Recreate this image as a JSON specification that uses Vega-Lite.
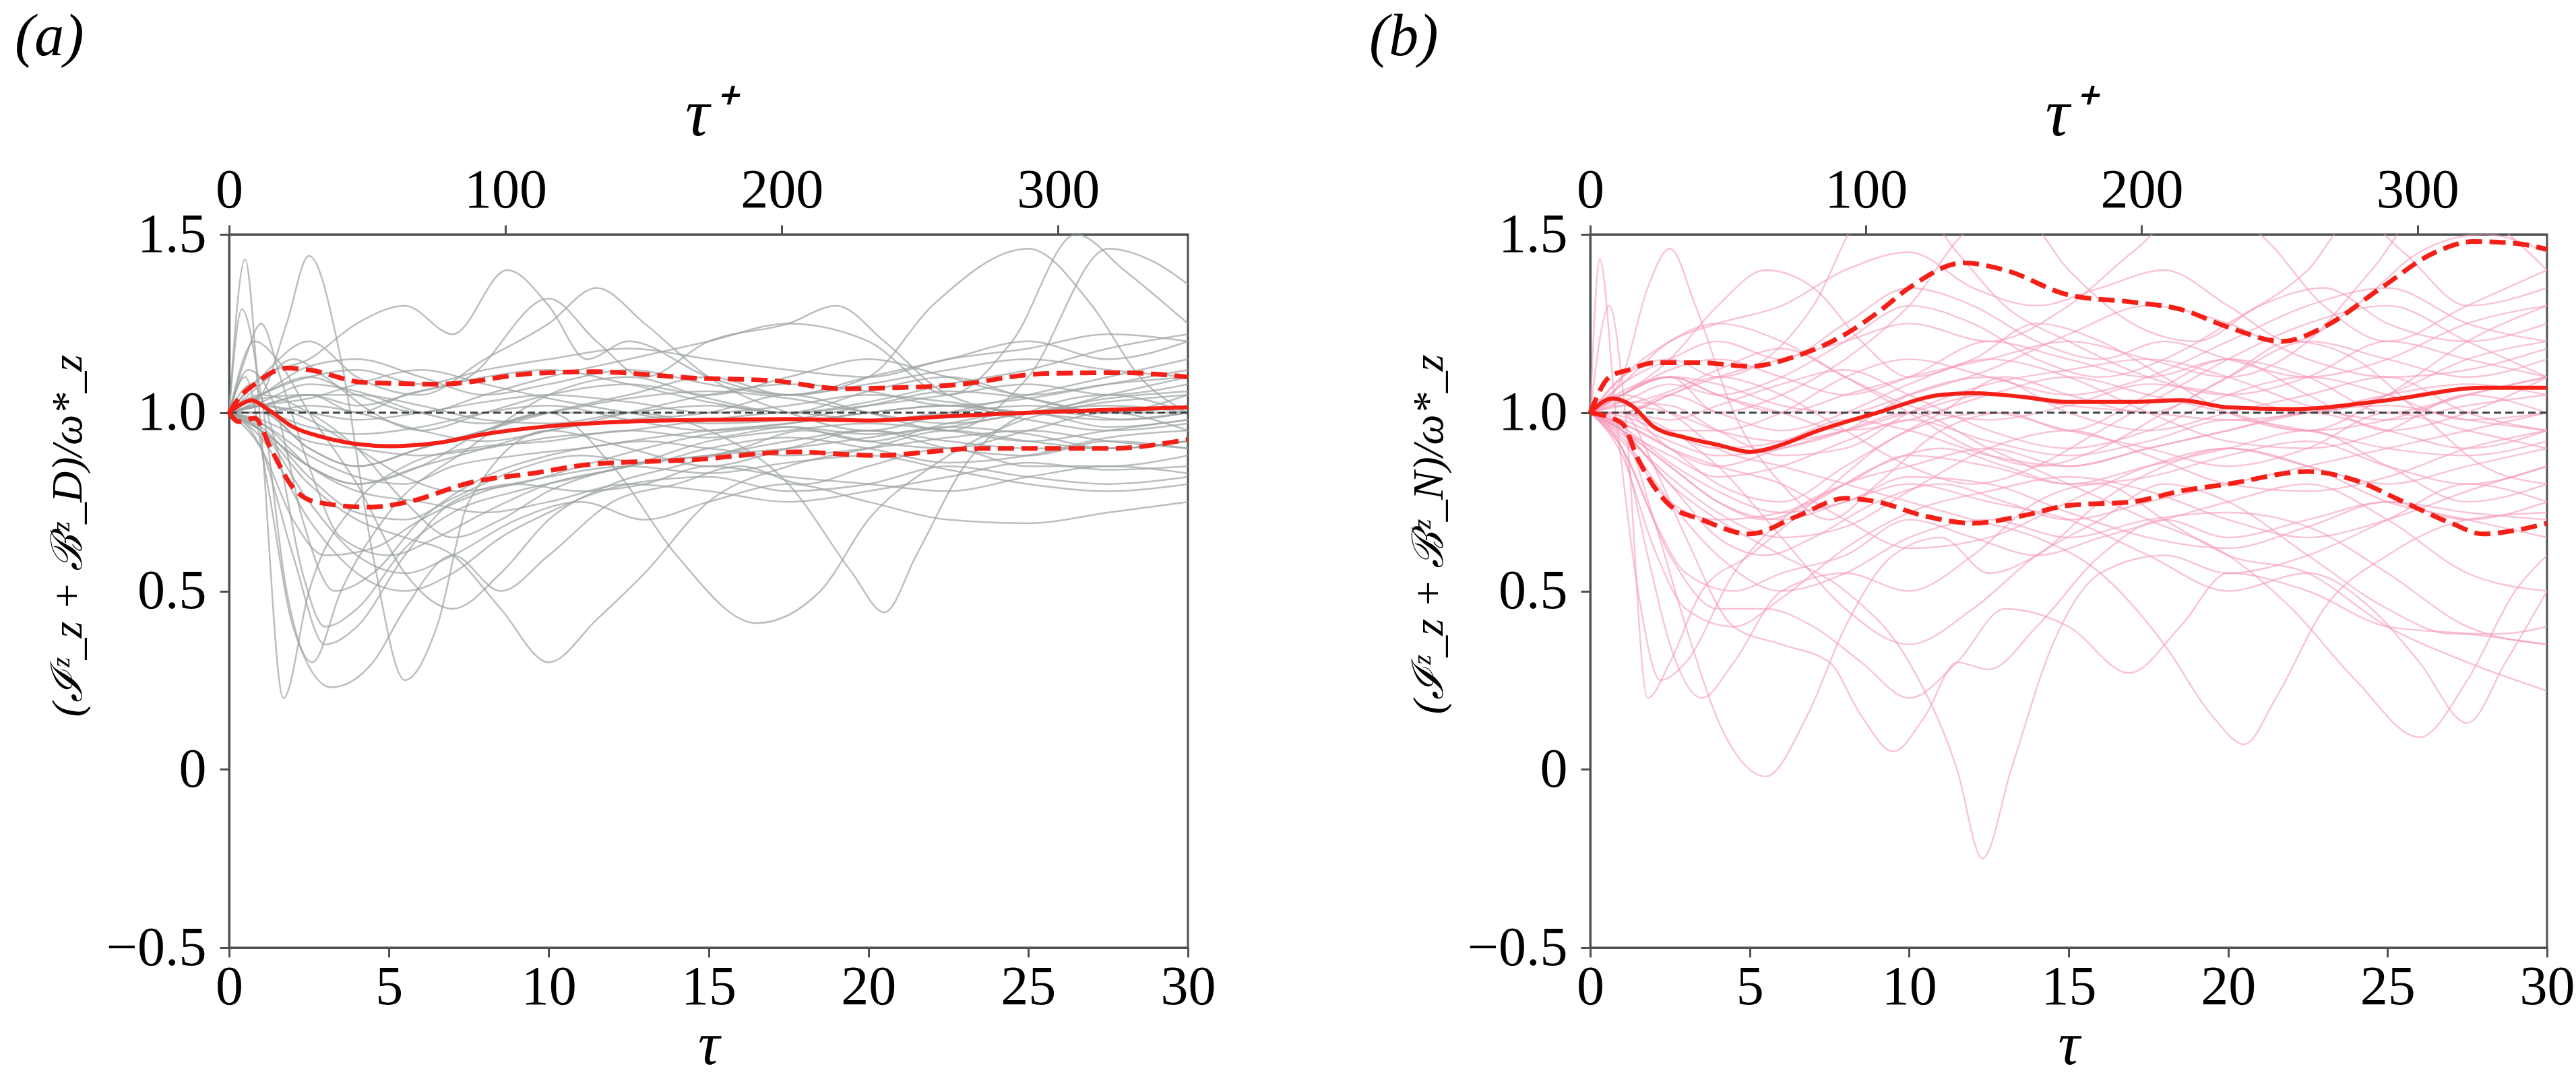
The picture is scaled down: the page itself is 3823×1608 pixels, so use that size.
{
  "$schema": "https://vega.github.io/schema/vega-lite/v6.json",
  "padding": {"left": 20, "top": 10, "right": 5, "bottom": 0},
  "config": {
    "font": "Liberation Serif",
    "view": {"stroke": "#4b5050", "strokeWidth": 3},
    "axis": {
      "labelFont": "Liberation Serif", "labelFontSize": 82, "labelColor": "#000000",
      "titleFont": "Liberation Serif", "titleFontWeight": "normal", "titleColor": "#000000",
      "domainColor": "#4b5050", "domainWidth": 3, "tickColor": "#4b5050", "tickWidth": 3, "tickSize": 14,
      "grid": false, "labelFlush": false, "labelOverlap": false
    },
    "title": {"font": "Liberation Serif", "fontSize": 88, "fontWeight": "normal", "fontStyle": "italic", "color": "#000000"}
  },
  "datasets": {
    "a": [
      {"s":1,"t":0,"v":1.0},{"s":1,"t":0.5,"v":1.43},{"s":1,"t":1.0,"v":0.95},{"s":1,"t":1.7,"v":0.2},{"s":1,"t":2.5,"v":0.5},{"s":1,"t":4,"v":0.75},{"s":1,"t":5.5,"v":0.85},{"s":1,"t":7.5,"v":0.9},{"s":1,"t":10,"v":0.92},{"s":1,"t":12.5,"v":0.95},{"s":1,"t":15,"v":0.93},{"s":1,"t":17.5,"v":0.96},{"s":1,"t":20,"v":0.92},{"s":1,"t":22.5,"v":0.97},{"s":1,"t":25,"v":1.0},{"s":1,"t":27.5,"v":0.96},{"s":1,"t":30,"v":0.98},
      {"s":2,"t":0,"v":1.0},{"s":2,"t":0.4,"v":1.29},{"s":2,"t":1.0,"v":1.05},{"s":2,"t":1.8,"v":0.5},{"s":2,"t":2.6,"v":0.3},{"s":2,"t":3.5,"v":0.5},{"s":2,"t":5,"v":0.72},{"s":2,"t":7.5,"v":0.9},{"s":2,"t":10,"v":1.05},{"s":2,"t":12.5,"v":1.1},{"s":2,"t":15,"v":1.04},{"s":2,"t":17.5,"v":1.0},{"s":2,"t":20,"v":1.06},{"s":2,"t":22.5,"v":1.1},{"s":2,"t":25,"v":1.04},{"s":2,"t":27.5,"v":1.0},{"s":2,"t":30,"v":1.05},
      {"s":3,"t":0,"v":1.0},{"s":3,"t":1.0,"v":1.05},{"s":3,"t":1.8,"v":1.25},{"s":3,"t":2.5,"v":1.44},{"s":3,"t":3.5,"v":1.15},{"s":3,"t":4.5,"v":0.6},{"s":3,"t":5.5,"v":0.25},{"s":3,"t":6.5,"v":0.4},{"s":3,"t":7.5,"v":0.75},{"s":3,"t":10,"v":0.95},{"s":3,"t":12.5,"v":0.9},{"s":3,"t":15,"v":0.85},{"s":3,"t":17.5,"v":0.9},{"s":3,"t":20,"v":0.95},{"s":3,"t":22.5,"v":0.9},{"s":3,"t":25,"v":0.88},{"s":3,"t":27.5,"v":0.92},{"s":3,"t":30,"v":0.9},
      {"s":4,"t":0,"v":1.0},{"s":4,"t":1,"v":1.1},{"s":4,"t":2.5,"v":1.15},{"s":4,"t":4,"v":1.25},{"s":4,"t":5.5,"v":1.3},{"s":4,"t":7,"v":1.22},{"s":4,"t":8.7,"v":1.4},{"s":4,"t":10,"v":1.3},{"s":4,"t":11.2,"v":1.15},{"s":4,"t":12.5,"v":1.2},{"s":4,"t":15,"v":1.1},{"s":4,"t":17.5,"v":1.05},{"s":4,"t":20,"v":1.1},{"s":4,"t":22.5,"v":1.15},{"s":4,"t":25,"v":1.2},{"s":4,"t":27.5,"v":1.15},{"s":4,"t":30,"v":1.2},
      {"s":5,"t":0,"v":1.0},{"s":5,"t":1,"v":1.02},{"s":5,"t":2.5,"v":1.05},{"s":5,"t":4,"v":1.0},{"s":5,"t":5.5,"v":1.05},{"s":5,"t":7.5,"v":1.1},{"s":5,"t":10,"v":1.32},{"s":5,"t":11.5,"v":1.2},{"s":5,"t":13,"v":1.1},{"s":5,"t":15,"v":1.2},{"s":5,"t":17.5,"v":1.25},{"s":5,"t":19,"v":1.3},{"s":5,"t":20.5,"v":1.2},{"s":5,"t":22.5,"v":1.05},{"s":5,"t":25,"v":1.0},{"s":5,"t":27.5,"v":1.05},{"s":5,"t":30,"v":1.1},
      {"s":6,"t":0,"v":1.0},{"s":6,"t":1,"v":1.1},{"s":6,"t":2.5,"v":1.2},{"s":6,"t":4,"v":1.1},{"s":6,"t":6,"v":1.05},{"s":6,"t":8,"v":1.15},{"s":6,"t":10,"v":1.25},{"s":6,"t":11.5,"v":1.35},{"s":6,"t":13,"v":1.25},{"s":6,"t":15,"v":1.1},{"s":6,"t":17.5,"v":1.0},{"s":6,"t":20,"v":0.95},{"s":6,"t":22.5,"v":1.0},{"s":6,"t":25,"v":1.05},{"s":6,"t":27.5,"v":1.1},{"s":6,"t":30,"v":1.15},
      {"s":7,"t":0,"v":1.0},{"s":7,"t":1,"v":0.95},{"s":7,"t":2.5,"v":0.8},{"s":7,"t":4,"v":0.7},{"s":7,"t":5.5,"v":0.65},{"s":7,"t":7,"v":0.6},{"s":7,"t":8.5,"v":0.45},{"s":7,"t":10,"v":0.3},{"s":7,"t":11.5,"v":0.42},{"s":7,"t":13,"v":0.55},{"s":7,"t":15,"v":0.75},{"s":7,"t":17.5,"v":0.85},{"s":7,"t":20,"v":0.9},{"s":7,"t":22.5,"v":0.95},{"s":7,"t":25,"v":0.92},{"s":7,"t":27.5,"v":0.9},{"s":7,"t":30,"v":0.92},
      {"s":8,"t":0,"v":1.0},{"s":8,"t":1,"v":0.95},{"s":8,"t":2.5,"v":0.85},{"s":8,"t":4,"v":0.8},{"s":8,"t":6,"v":0.85},{"s":8,"t":8,"v":0.95},{"s":8,"t":10,"v":1.0},{"s":8,"t":12,"v":0.85},{"s":8,"t":14,"v":0.6},{"s":8,"t":16.5,"v":0.41},{"s":8,"t":18.5,"v":0.5},{"s":8,"t":20,"v":0.7},{"s":8,"t":22,"v":0.85},{"s":8,"t":24,"v":0.95},{"s":8,"t":26,"v":1.0},{"s":8,"t":28,"v":0.98},{"s":8,"t":30,"v":1.0},
      {"s":9,"t":0,"v":1.0},{"s":9,"t":1,"v":1.0},{"s":9,"t":2.5,"v":0.9},{"s":9,"t":4,"v":0.85},{"s":9,"t":6,"v":0.9},{"s":9,"t":8,"v":0.95},{"s":9,"t":10,"v":1.0},{"s":9,"t":12.5,"v":1.0},{"s":9,"t":15,"v":0.95},{"s":9,"t":17.5,"v":0.8},{"s":9,"t":19.5,"v":0.55},{"s":9,"t":20.5,"v":0.44},{"s":9,"t":21.5,"v":0.6},{"s":9,"t":23,"v":0.85},{"s":9,"t":25,"v":1.0},{"s":9,"t":27.5,"v":1.05},{"s":9,"t":30,"v":1.0},
      {"s":10,"t":0,"v":1.0},{"s":10,"t":1,"v":1.0},{"s":10,"t":2.5,"v":0.9},{"s":10,"t":4,"v":0.85},{"s":10,"t":6,"v":0.9},{"s":10,"t":8,"v":0.95},{"s":10,"t":10,"v":1.0},{"s":10,"t":12.5,"v":1.05},{"s":10,"t":15,"v":1.1},{"s":10,"t":17.5,"v":1.05},{"s":10,"t":20,"v":1.1},{"s":10,"t":22,"v":1.3},{"s":10,"t":25,"v":1.46},{"s":10,"t":27,"v":1.3},{"s":10,"t":28.5,"v":1.1},{"s":10,"t":30,"v":1.0},
      {"s":11,"t":0,"v":1.0},{"s":11,"t":1,"v":1.05},{"s":11,"t":2.5,"v":1.1},{"s":11,"t":4,"v":1.05},{"s":11,"t":6,"v":1.0},{"s":11,"t":8,"v":1.05},{"s":11,"t":10,"v":1.1},{"s":11,"t":12.5,"v":1.15},{"s":11,"t":15,"v":1.2},{"s":11,"t":17.5,"v":1.25},{"s":11,"t":20,"v":1.2},{"s":11,"t":22.5,"v":1.05},{"s":11,"t":24.5,"v":1.2},{"s":11,"t":26.5,"v":1.5},{"s":11,"t":28,"v":1.4},{"s":11,"t":30,"v":1.25},
      {"s":12,"t":0,"v":1.0},{"s":12,"t":1,"v":0.95},{"s":12,"t":2.5,"v":0.85},{"s":12,"t":4,"v":0.8},{"s":12,"t":6,"v":0.85},{"s":12,"t":8,"v":0.9},{"s":12,"t":10,"v":0.95},{"s":12,"t":12.5,"v":0.98},{"s":12,"t":15,"v":1.0},{"s":12,"t":17.5,"v":1.05},{"s":12,"t":20,"v":1.0},{"s":12,"t":22.5,"v":0.95},{"s":12,"t":25,"v":1.1},{"s":12,"t":27.5,"v":1.46},{"s":12,"t":29,"v":1.42},{"s":12,"t":30,"v":1.36},
      {"s":13,"t":0,"v":1.0},{"s":13,"t":1,"v":0.95},{"s":13,"t":2.5,"v":0.75},{"s":13,"t":4,"v":0.6},{"s":13,"t":5.5,"v":0.55},{"s":13,"t":7,"v":0.6},{"s":13,"t":9,"v":0.7},{"s":13,"t":11,"v":0.75},{"s":13,"t":13,"v":0.7},{"s":13,"t":15,"v":0.75},{"s":13,"t":17.5,"v":0.8},{"s":13,"t":20,"v":0.75},{"s":13,"t":22.5,"v":0.7},{"s":13,"t":25,"v":0.69},{"s":13,"t":27.5,"v":0.72},{"s":13,"t":30,"v":0.75},
      {"s":14,"t":0,"v":1.0},{"s":14,"t":0.5,"v":1.1},{"s":14,"t":1.2,"v":0.8},{"s":14,"t":2,"v":0.4},{"s":14,"t":3.2,"v":0.23},{"s":14,"t":4.5,"v":0.3},{"s":14,"t":5.5,"v":0.45},{"s":14,"t":7,"v":0.6},{"s":14,"t":8.5,"v":0.5},{"s":14,"t":10,"v":0.6},{"s":14,"t":12,"v":0.75},{"s":14,"t":14,"v":0.8},{"s":14,"t":16,"v":0.85},{"s":14,"t":18,"v":0.8},{"s":14,"t":20,"v":0.85},{"s":14,"t":22.5,"v":0.9},{"s":14,"t":25,"v":0.85},{"s":14,"t":27.5,"v":0.85},{"s":14,"t":30,"v":0.88},
      {"s":15,"t":0,"v":1.0},{"s":15,"t":0.8,"v":1.2},{"s":15,"t":1.5,"v":1.15},{"s":15,"t":2.5,"v":1.0},{"s":15,"t":4,"v":0.8},{"s":15,"t":5.5,"v":0.55},{"s":15,"t":7,"v":0.45},{"s":15,"t":8.5,"v":0.55},{"s":15,"t":10,"v":0.7},{"s":15,"t":12,"v":0.8},{"s":15,"t":14,"v":0.85},{"s":15,"t":16,"v":0.9},{"s":15,"t":18,"v":0.95},{"s":15,"t":20,"v":0.92},{"s":15,"t":22.5,"v":0.9},{"s":15,"t":25,"v":0.95},{"s":15,"t":27.5,"v":1.0},{"s":15,"t":30,"v":0.95},
      {"s":16,"t":0,"v":1.0},{"s":16,"t":1,"v":1.05},{"s":16,"t":2.5,"v":1.1},{"s":16,"t":4,"v":1.12},{"s":16,"t":6,"v":1.08},{"s":16,"t":8,"v":1.12},{"s":16,"t":10,"v":1.15},{"s":16,"t":12.5,"v":1.18},{"s":16,"t":15,"v":1.15},{"s":16,"t":17.5,"v":1.12},{"s":16,"t":20,"v":1.1},{"s":16,"t":22.5,"v":1.15},{"s":16,"t":25,"v":1.18},{"s":16,"t":27.5,"v":1.22},{"s":16,"t":30,"v":1.2},
      {"s":17,"t":0,"v":1.0},{"s":17,"t":1,"v":0.98},{"s":17,"t":2.5,"v":0.92},{"s":17,"t":4,"v":0.9},{"s":17,"t":6,"v":0.88},{"s":17,"t":8,"v":0.9},{"s":17,"t":10,"v":0.93},{"s":17,"t":12.5,"v":0.95},{"s":17,"t":15,"v":0.98},{"s":17,"t":17.5,"v":1.0},{"s":17,"t":20,"v":0.98},{"s":17,"t":22.5,"v":1.0},{"s":17,"t":25,"v":1.02},{"s":17,"t":27.5,"v":1.0},{"s":17,"t":30,"v":1.02},
      {"s":18,"t":0,"v":1.0},{"s":18,"t":1,"v":1.02},{"s":18,"t":2.5,"v":1.0},{"s":18,"t":4,"v":0.98},{"s":18,"t":6,"v":1.0},{"s":18,"t":8,"v":1.03},{"s":18,"t":10,"v":1.05},{"s":18,"t":12.5,"v":1.03},{"s":18,"t":15,"v":1.0},{"s":18,"t":17.5,"v":1.02},{"s":18,"t":20,"v":1.05},{"s":18,"t":22.5,"v":1.03},{"s":18,"t":25,"v":1.0},{"s":18,"t":27.5,"v":1.03},{"s":18,"t":30,"v":1.05},
      {"s":19,"t":0,"v":1.0},{"s":19,"t":1,"v":0.9},{"s":19,"t":2,"v":0.6},{"s":19,"t":3,"v":0.35},{"s":19,"t":4,"v":0.4},{"s":19,"t":5.5,"v":0.6},{"s":19,"t":7,"v":0.75},{"s":19,"t":9,"v":0.8},{"s":19,"t":11,"v":0.78},{"s":19,"t":13,"v":0.8},{"s":19,"t":15,"v":0.85},{"s":19,"t":17.5,"v":0.82},{"s":19,"t":20,"v":0.8},{"s":19,"t":22.5,"v":0.78},{"s":19,"t":25,"v":0.82},{"s":19,"t":27.5,"v":0.85},{"s":19,"t":30,"v":0.83},
      {"s":20,"t":0,"v":1.0},{"s":20,"t":1,"v":1.05},{"s":20,"t":2.5,"v":1.0},{"s":20,"t":4,"v":0.9},{"s":20,"t":5.5,"v":0.75},{"s":20,"t":7,"v":0.65},{"s":20,"t":8.5,"v":0.7},{"s":20,"t":10,"v":0.78},{"s":20,"t":12.5,"v":0.85},{"s":20,"t":15,"v":0.88},{"s":20,"t":17.5,"v":0.92},{"s":20,"t":20,"v":0.95},{"s":20,"t":22.5,"v":0.92},{"s":20,"t":25,"v":0.9},{"s":20,"t":27.5,"v":0.9},{"s":20,"t":30,"v":0.92},
      {"s":21,"t":0,"v":1.0},{"s":21,"t":1,"v":1.08},{"s":21,"t":2,"v":1.15},{"s":21,"t":3,"v":1.1},{"s":21,"t":4.5,"v":1.0},{"s":21,"t":6,"v":0.95},{"s":21,"t":8,"v":1.0},{"s":21,"t":10,"v":1.05},{"s":21,"t":12.5,"v":1.08},{"s":21,"t":15,"v":1.05},{"s":21,"t":17.5,"v":1.1},{"s":21,"t":20,"v":1.15},{"s":21,"t":22.5,"v":1.1},{"s":21,"t":25,"v":1.05},{"s":21,"t":27.5,"v":1.08},{"s":21,"t":30,"v":1.1},
      {"s":22,"t":0,"v":1.0},{"s":22,"t":1,"v":0.93},{"s":22,"t":2.5,"v":0.7},{"s":22,"t":4,"v":0.55},{"s":22,"t":5.5,"v":0.5},{"s":22,"t":7,"v":0.55},{"s":22,"t":8.5,"v":0.65},{"s":22,"t":10,"v":0.72},{"s":22,"t":12.5,"v":0.8},{"s":22,"t":15,"v":0.82},{"s":22,"t":17.5,"v":0.78},{"s":22,"t":20,"v":0.8},{"s":22,"t":22.5,"v":0.85},{"s":22,"t":25,"v":0.82},{"s":22,"t":27.5,"v":0.8},{"s":22,"t":30,"v":0.82},
      {"s":23,"t":0,"v":1.0},{"s":23,"t":1,"v":0.97},{"s":23,"t":2.5,"v":0.88},{"s":23,"t":4,"v":0.82},{"s":23,"t":5.5,"v":0.8},{"s":23,"t":7,"v":0.85},{"s":23,"t":9,"v":0.88},{"s":23,"t":11,"v":0.9},{"s":23,"t":13,"v":0.92},{"s":23,"t":15,"v":0.9},{"s":23,"t":17.5,"v":0.88},{"s":23,"t":20,"v":0.9},{"s":23,"t":22.5,"v":0.93},{"s":23,"t":25,"v":0.95},{"s":23,"t":27.5,"v":0.92},{"s":23,"t":30,"v":0.9},
      {"s":24,"t":0,"v":1.0},{"s":24,"t":0.6,"v":1.12},{"s":24,"t":1.5,"v":1.0},{"s":24,"t":2.3,"v":0.7},{"s":24,"t":3.3,"v":0.5},{"s":24,"t":4.5,"v":0.55},{"s":24,"t":6,"v":0.7},{"s":24,"t":8,"v":0.82},{"s":24,"t":10,"v":0.88},{"s":24,"t":12.5,"v":0.92},{"s":24,"t":15,"v":0.95},{"s":24,"t":17.5,"v":0.97},{"s":24,"t":20,"v":1.0},{"s":24,"t":22.5,"v":1.02},{"s":24,"t":25,"v":1.0},{"s":24,"t":27.5,"v":0.98},{"s":24,"t":30,"v":1.0},
      {"s":25,"t":0,"v":1.0},{"s":25,"t":1,"v":1.02},{"s":25,"t":2.5,"v":1.05},{"s":25,"t":4,"v":1.05},{"s":25,"t":6,"v":1.02},{"s":25,"t":8,"v":0.98},{"s":25,"t":10,"v":0.97},{"s":25,"t":12.5,"v":1.0},{"s":25,"t":15,"v":1.02},{"s":25,"t":17.5,"v":1.0},{"s":25,"t":20,"v":1.02},{"s":25,"t":22.5,"v":1.05},{"s":25,"t":25,"v":1.08},{"s":25,"t":27.5,"v":1.05},{"s":25,"t":30,"v":1.08},
      {"s":26,"t":0,"v":1.0},{"s":26,"t":1,"v":1.03},{"s":26,"t":2.5,"v":1.08},{"s":26,"t":4,"v":1.06},{"s":26,"t":6,"v":1.0},{"s":26,"t":8,"v":0.97},{"s":26,"t":10,"v":1.0},{"s":26,"t":12.5,"v":1.04},{"s":26,"t":15,"v":1.06},{"s":26,"t":17.5,"v":1.04},{"s":26,"t":20,"v":1.0},{"s":26,"t":22.5,"v":0.97},{"s":26,"t":25,"v":1.0},{"s":26,"t":27.5,"v":1.04},{"s":26,"t":30,"v":1.06},
      {"s":27,"t":0,"v":1.0},{"s":27,"t":1,"v":0.96},{"s":27,"t":2.5,"v":0.82},{"s":27,"t":4,"v":0.72},{"s":27,"t":5.5,"v":0.7},{"s":27,"t":7,"v":0.76},{"s":27,"t":9,"v":0.84},{"s":27,"t":11,"v":0.88},{"s":27,"t":13,"v":0.86},{"s":27,"t":15,"v":0.9},{"s":27,"t":17.5,"v":0.93},{"s":27,"t":20,"v":0.9},{"s":27,"t":22.5,"v":0.86},{"s":27,"t":25,"v":0.88},{"s":27,"t":27.5,"v":0.93},{"s":27,"t":30,"v":0.95},
      {"s":28,"t":0,"v":1.0},{"s":28,"t":1,"v":1.05},{"s":28,"t":2.5,"v":1.13},{"s":28,"t":4,"v":1.15},{"s":28,"t":6,"v":1.1},{"s":28,"t":8,"v":1.05},{"s":28,"t":10,"v":1.08},{"s":28,"t":12.5,"v":1.12},{"s":28,"t":15,"v":1.08},{"s":28,"t":17.5,"v":1.05},{"s":28,"t":20,"v":1.08},{"s":28,"t":22.5,"v":1.12},{"s":28,"t":25,"v":1.15},{"s":28,"t":27.5,"v":1.12},{"s":28,"t":30,"v":1.1},
      {"s":29,"t":0,"v":1.0},{"s":29,"t":1,"v":0.9},{"s":29,"t":2,"v":0.7},{"s":29,"t":3,"v":0.6},{"s":29,"t":4.5,"v":0.62},{"s":29,"t":6,"v":0.7},{"s":29,"t":8,"v":0.78},{"s":29,"t":10,"v":0.82},{"s":29,"t":12.5,"v":0.85},{"s":29,"t":15,"v":0.83},{"s":29,"t":17.5,"v":0.86},{"s":29,"t":20,"v":0.88},{"s":29,"t":22.5,"v":0.84},{"s":29,"t":25,"v":0.8},{"s":29,"t":27.5,"v":0.78},{"s":29,"t":30,"v":0.8},
      {"s":30,"t":0,"v":1.0},{"s":30,"t":1,"v":1.0},{"s":30,"t":2.5,"v":0.96},{"s":30,"t":4,"v":0.94},{"s":30,"t":6,"v":0.96},{"s":30,"t":8,"v":1.0},{"s":30,"t":10,"v":1.02},{"s":30,"t":12.5,"v":0.98},{"s":30,"t":15,"v":0.95},{"s":30,"t":17.5,"v":0.97},{"s":30,"t":20,"v":1.0},{"s":30,"t":22.5,"v":1.02},{"s":30,"t":25,"v":0.98},{"s":30,"t":27.5,"v":0.95},{"s":30,"t":30,"v":0.97},
      {"s":31,"t":0,"v":1.0},{"s":31,"t":0.5,"v":1.15},{"s":31,"t":1,"v":1.25},{"s":31,"t":1.6,"v":1.1},{"s":31,"t":2.5,"v":0.85},{"s":31,"t":3.5,"v":0.65},{"s":31,"t":5,"v":0.6},{"s":31,"t":6.5,"v":0.65},{"s":31,"t":8,"v":0.72},{"s":31,"t":10,"v":0.8},{"s":31,"t":12.5,"v":0.85},{"s":31,"t":15,"v":0.92},{"s":31,"t":17.5,"v":0.95},{"s":31,"t":20,"v":0.97},{"s":31,"t":22.5,"v":0.95},{"s":31,"t":25,"v":0.92},{"s":31,"t":27.5,"v":0.95},{"s":31,"t":30,"v":0.98},
      {"s":32,"t":0,"v":1.0},{"s":32,"t":1,"v":1.02},{"s":32,"t":2.5,"v":0.98},{"s":32,"t":4,"v":0.9},{"s":32,"t":5.5,"v":0.82},{"s":32,"t":7,"v":0.78},{"s":32,"t":9,"v":0.8},{"s":32,"t":11,"v":0.85},{"s":32,"t":13,"v":0.9},{"s":32,"t":15,"v":0.94},{"s":32,"t":17.5,"v":0.96},{"s":32,"t":20,"v":0.94},{"s":32,"t":22.5,"v":0.96},{"s":32,"t":25,"v":1.0},{"s":32,"t":27.5,"v":1.02},{"s":32,"t":30,"v":1.0},
      {"s":33,"t":0,"v":1.0},{"s":33,"t":1,"v":1.04},{"s":33,"t":2.5,"v":1.05},{"s":33,"t":4,"v":1.02},{"s":33,"t":6,"v":1.06},{"s":33,"t":8,"v":1.1},{"s":33,"t":10,"v":1.12},{"s":33,"t":12.5,"v":1.08},{"s":33,"t":15,"v":1.03},{"s":33,"t":17.5,"v":1.0},{"s":33,"t":20,"v":1.03},{"s":33,"t":22.5,"v":1.08},{"s":33,"t":25,"v":1.12},{"s":33,"t":27.5,"v":1.18},{"s":33,"t":30,"v":1.22},
      {"s":34,"t":0,"v":1.0},{"s":34,"t":1,"v":0.97},{"s":34,"t":2.5,"v":0.85},{"s":34,"t":4,"v":0.78},{"s":34,"t":6,"v":0.75},{"s":34,"t":8,"v":0.72},{"s":34,"t":10,"v":0.75},{"s":34,"t":12.5,"v":0.8},{"s":34,"t":15,"v":0.78},{"s":34,"t":17.5,"v":0.75},{"s":34,"t":20,"v":0.78},{"s":34,"t":22.5,"v":0.82},{"s":34,"t":25,"v":0.86},{"s":34,"t":27.5,"v":0.84},{"s":34,"t":30,"v":0.85},
      {"s":35,"t":0,"v":1.0},{"s":35,"t":1,"v":1.0},{"s":35,"t":2.5,"v":1.02},{"s":35,"t":4,"v":1.0},{"s":35,"t":6,"v":0.95},{"s":35,"t":8,"v":0.92},{"s":35,"t":10,"v":0.95},{"s":35,"t":12.5,"v":1.0},{"s":35,"t":15,"v":1.05},{"s":35,"t":17.5,"v":1.08},{"s":35,"t":20,"v":1.06},{"s":35,"t":22.5,"v":1.02},{"s":35,"t":25,"v":1.04},{"s":35,"t":27.5,"v":1.08},{"s":35,"t":30,"v":1.12},
      {"s":36,"t":0,"v":1.0},{"s":36,"t":0.7,"v":1.08},{"s":36,"t":1.5,"v":0.9},{"s":36,"t":2.3,"v":0.55},{"s":36,"t":3,"v":0.4},{"s":36,"t":4,"v":0.45},{"s":36,"t":5.5,"v":0.62},{"s":36,"t":7,"v":0.72},{"s":36,"t":9,"v":0.78},{"s":36,"t":11,"v":0.82},{"s":36,"t":13,"v":0.86},{"s":36,"t":15,"v":0.88},{"s":36,"t":17.5,"v":0.9},{"s":36,"t":20,"v":0.93},{"s":36,"t":22.5,"v":0.96},{"s":36,"t":25,"v":0.94},{"s":36,"t":27.5,"v":0.9},{"s":36,"t":30,"v":0.92},
      {"s":37,"t":0,"v":1.0},{"s":37,"t":1,"v":1.02},{"s":37,"t":2.5,"v":1.04},{"s":37,"t":4,"v":1.08},{"s":37,"t":6,"v":1.12},{"s":37,"t":8,"v":1.08},{"s":37,"t":10,"v":1.04},{"s":37,"t":12.5,"v":1.0},{"s":37,"t":15,"v":0.97},{"s":37,"t":17.5,"v":0.98},{"s":37,"t":20,"v":1.02},{"s":37,"t":22.5,"v":1.06},{"s":37,"t":25,"v":1.04},{"s":37,"t":27.5,"v":1.0},{"s":37,"t":30,"v":1.0}
    ],
    "aR": [
      {"s":"m","t":0,"v":1.0},{"s":"m","t":0.3,"v":1.02},{"s":"m","t":0.7,"v":1.035},{"s":"m","t":1.2,"v":1.01},{"s":"m","t":2,"v":0.96},{"s":"m","t":3,"v":0.93},{"s":"m","t":4,"v":0.912},{"s":"m","t":5,"v":0.906},{"s":"m","t":6.5,"v":0.915},{"s":"m","t":8,"v":0.94},{"s":"m","t":10,"v":0.962},{"s":"m","t":12.5,"v":0.975},{"s":"m","t":15,"v":0.98},{"s":"m","t":17.5,"v":0.982},{"s":"m","t":20,"v":0.978},{"s":"m","t":22.5,"v":0.99},{"s":"m","t":25,"v":1.0},{"s":"m","t":27.5,"v":1.008},{"s":"m","t":30,"v":1.015},
      {"s":"hi","t":0,"v":1.0},{"s":"hi","t":0.3,"v":1.04},{"s":"hi","t":0.8,"v":1.08},{"s":"hi","t":1.8,"v":1.125},{"s":"hi","t":2.5,"v":1.12},{"s":"hi","t":4.2,"v":1.085},{"s":"hi","t":6.6,"v":1.08},{"s":"hi","t":9.5,"v":1.11},{"s":"hi","t":11.4,"v":1.115},{"s":"hi","t":14.6,"v":1.097},{"s":"hi","t":17,"v":1.09},{"s":"hi","t":19.2,"v":1.067},{"s":"hi","t":20.8,"v":1.07},{"s":"hi","t":22.6,"v":1.077},{"s":"hi","t":25.6,"v":1.11},{"s":"hi","t":28,"v":1.112},{"s":"hi","t":30,"v":1.10},
      {"s":"lo","t":0,"v":1.0},{"s":"lo","t":0.3,"v":0.975},{"s":"lo","t":0.8,"v":0.985},{"s":"lo","t":1.3,"v":0.9},{"s":"lo","t":2,"v":0.79},{"s":"lo","t":2.7,"v":0.75},{"s":"lo","t":4.4,"v":0.735},{"s":"lo","t":5.6,"v":0.75},{"s":"lo","t":7.6,"v":0.805},{"s":"lo","t":9.5,"v":0.83},{"s":"lo","t":11.4,"v":0.856},{"s":"lo","t":14.5,"v":0.868},{"s":"lo","t":17.7,"v":0.89},{"s":"lo","t":20.2,"v":0.88},{"s":"lo","t":23.6,"v":0.9},{"s":"lo","t":27.6,"v":0.9},{"s":"lo","t":30,"v":0.925}
    ],
    "b": [
      {"s":1,"t":0,"v":1.0},{"s":1,"t":0.3,"v":1.43},{"s":1,"t":0.8,"v":1.0},{"s":1,"t":1.5,"v":0.5},{"s":1,"t":2.2,"v":0.25},{"s":1,"t":3,"v":0.3},{"s":1,"t":4.5,"v":0.55},{"s":1,"t":6,"v":0.7},{"s":1,"t":8,"v":0.8},{"s":1,"t":10,"v":0.85},{"s":1,"t":12.5,"v":0.9},{"s":1,"t":15,"v":0.85},{"s":1,"t":17.5,"v":0.9},{"s":1,"t":20,"v":0.95},{"s":1,"t":22.5,"v":1.0},{"s":1,"t":25,"v":0.95},{"s":1,"t":27.5,"v":0.9},{"s":1,"t":30,"v":0.95},
      {"s":2,"t":0,"v":1.0},{"s":2,"t":0.6,"v":1.3},{"s":2,"t":1.1,"v":1.0},{"s":2,"t":1.8,"v":0.2},{"s":2,"t":2.5,"v":0.3},{"s":2,"t":3.5,"v":0.5},{"s":2,"t":5,"v":0.6},{"s":2,"t":7,"v":0.75},{"s":2,"t":9,"v":0.9},{"s":2,"t":11,"v":1.0},{"s":2,"t":13,"v":1.1},{"s":2,"t":15,"v":1.05},{"s":2,"t":17.5,"v":1.0},{"s":2,"t":20,"v":1.1},{"s":2,"t":22.5,"v":1.2},{"s":2,"t":25,"v":1.15},{"s":2,"t":27.5,"v":1.1},{"s":2,"t":30,"v":1.15},
      {"s":3,"t":0,"v":1.0},{"s":3,"t":1,"v":1.1},{"s":3,"t":1.8,"v":1.35},{"s":3,"t":2.5,"v":1.46},{"s":3,"t":3.3,"v":1.3},{"s":3,"t":4.5,"v":1.0},{"s":3,"t":6,"v":0.8},{"s":3,"t":7.5,"v":0.7},{"s":3,"t":9,"v":0.8},{"s":3,"t":11,"v":0.95},{"s":3,"t":13,"v":1.0},{"s":3,"t":15,"v":0.95},{"s":3,"t":17.5,"v":1.05},{"s":3,"t":20,"v":1.15},{"s":3,"t":22.5,"v":1.1},{"s":3,"t":25,"v":1.0},{"s":3,"t":27.5,"v":1.05},{"s":3,"t":30,"v":1.1},
      {"s":4,"t":0,"v":1.0},{"s":4,"t":1,"v":0.95},{"s":4,"t":2.5,"v":0.8},{"s":4,"t":4,"v":0.7},{"s":4,"t":6,"v":0.6},{"s":4,"t":8,"v":0.5},{"s":4,"t":10,"v":0.3},{"s":4,"t":11.5,"v":0.0},{"s":4,"t":12.3,"v":-0.25},{"s":4,"t":13.2,"v":0.0},{"s":4,"t":14.5,"v":0.35},{"s":4,"t":16,"v":0.55},{"s":4,"t":18,"v":0.6},{"s":4,"t":20,"v":0.55},{"s":4,"t":22.5,"v":0.6},{"s":4,"t":25,"v":0.7},{"s":4,"t":27.5,"v":0.8},{"s":4,"t":30,"v":0.75},
      {"s":5,"t":0,"v":1.0},{"s":5,"t":1,"v":0.95},{"s":5,"t":2,"v":0.7},{"s":5,"t":3,"v":0.4},{"s":5,"t":4.2,"v":0.1},{"s":5,"t":5.5,"v":-0.02},{"s":5,"t":6.8,"v":0.15},{"s":5,"t":8,"v":0.4},{"s":5,"t":9.5,"v":0.6},{"s":5,"t":11,"v":0.65},{"s":5,"t":12.5,"v":0.55},{"s":5,"t":14,"v":0.6},{"s":5,"t":16,"v":0.75},{"s":5,"t":18,"v":0.85},{"s":5,"t":20,"v":0.9},{"s":5,"t":22.5,"v":0.85},{"s":5,"t":25,"v":0.8},{"s":5,"t":27.5,"v":0.85},{"s":5,"t":30,"v":0.9},
      {"s":6,"t":0,"v":1.0},{"s":6,"t":1,"v":1.0},{"s":6,"t":2,"v":0.85},{"s":6,"t":3,"v":0.65},{"s":6,"t":4.5,"v":0.4},{"s":6,"t":6,"v":0.35},{"s":6,"t":7.5,"v":0.3},{"s":6,"t":8.5,"v":0.15},{"s":6,"t":9.5,"v":0.05},{"s":6,"t":10.5,"v":0.15},{"s":6,"t":11.5,"v":0.3},{"s":6,"t":12.5,"v":0.28},{"s":6,"t":14,"v":0.4},{"s":6,"t":16,"v":0.6},{"s":6,"t":18,"v":0.7},{"s":6,"t":20,"v":0.65},{"s":6,"t":22.5,"v":0.7},{"s":6,"t":25,"v":0.75},{"s":6,"t":27.5,"v":0.7},{"s":6,"t":30,"v":0.75},
      {"s":7,"t":0,"v":1.0},{"s":7,"t":1,"v":1.05},{"s":7,"t":2.5,"v":1.0},{"s":7,"t":4,"v":0.9},{"s":7,"t":6,"v":0.85},{"s":7,"t":8,"v":0.8},{"s":7,"t":10,"v":0.75},{"s":7,"t":12,"v":0.7},{"s":7,"t":14,"v":0.65},{"s":7,"t":16,"v":0.55},{"s":7,"t":18,"v":0.35},{"s":7,"t":19.5,"v":0.15},{"s":7,"t":20.5,"v":0.07},{"s":7,"t":21.5,"v":0.2},{"s":7,"t":23,"v":0.45},{"s":7,"t":25,"v":0.6},{"s":7,"t":27.5,"v":0.7},{"s":7,"t":30,"v":0.72},
      {"s":8,"t":0,"v":1.0},{"s":8,"t":1,"v":1.0},{"s":8,"t":2.5,"v":0.9},{"s":8,"t":4,"v":0.85},{"s":8,"t":6,"v":0.9},{"s":8,"t":8,"v":0.95},{"s":8,"t":10,"v":1.0},{"s":8,"t":12.5,"v":0.9},{"s":8,"t":15,"v":0.8},{"s":8,"t":17.5,"v":0.7},{"s":8,"t":20,"v":0.6},{"s":8,"t":22,"v":0.45},{"s":8,"t":24,"v":0.25},{"s":8,"t":26,"v":0.09},{"s":8,"t":27.5,"v":0.25},{"s":8,"t":29,"v":0.5},{"s":8,"t":30,"v":0.6},
      {"s":9,"t":0,"v":1.0},{"s":9,"t":1,"v":0.95},{"s":9,"t":2.5,"v":0.85},{"s":9,"t":4,"v":0.75},{"s":9,"t":6,"v":0.7},{"s":9,"t":8,"v":0.75},{"s":9,"t":10,"v":0.8},{"s":9,"t":12.5,"v":0.75},{"s":9,"t":15,"v":0.7},{"s":9,"t":17.5,"v":0.6},{"s":9,"t":20,"v":0.5},{"s":9,"t":22.5,"v":0.55},{"s":9,"t":24.5,"v":0.45},{"s":9,"t":26,"v":0.3},{"s":9,"t":27.5,"v":0.13},{"s":9,"t":28.7,"v":0.3},{"s":9,"t":30,"v":0.5},
      {"s":10,"t":0,"v":1.0},{"s":10,"t":1,"v":0.9},{"s":10,"t":2.5,"v":0.6},{"s":10,"t":4,"v":0.45},{"s":10,"t":5.5,"v":0.45},{"s":10,"t":7,"v":0.4},{"s":10,"t":8.5,"v":0.3},{"s":10,"t":10,"v":0.2},{"s":10,"t":11.5,"v":0.3},{"s":10,"t":13,"v":0.45},{"s":10,"t":15,"v":0.4},{"s":10,"t":16.9,"v":0.27},{"s":10,"t":18.5,"v":0.4},{"s":10,"t":20,"v":0.55},{"s":10,"t":22.5,"v":0.5},{"s":10,"t":25,"v":0.4},{"s":10,"t":27.5,"v":0.38},{"s":10,"t":30,"v":0.35},
      {"s":11,"t":0,"v":1.0},{"s":11,"t":1,"v":1.1},{"s":11,"t":2.5,"v":1.15},{"s":11,"t":4,"v":1.1},{"s":11,"t":5.5,"v":1.15},{"s":11,"t":7,"v":1.3},{"s":11,"t":8.5,"v":1.55},{"s":11,"t":10,"v":1.6},{"s":11,"t":11.5,"v":1.45},{"s":11,"t":13,"v":1.3},{"s":11,"t":15,"v":1.2},{"s":11,"t":17.5,"v":1.1},{"s":11,"t":20,"v":1.05},{"s":11,"t":22.5,"v":1.1},{"s":11,"t":25,"v":1.2},{"s":11,"t":27.5,"v":1.15},{"s":11,"t":30,"v":1.1},
      {"s":12,"t":0,"v":1.0},{"s":12,"t":1,"v":1.05},{"s":12,"t":2.5,"v":1.1},{"s":12,"t":4,"v":1.0},{"s":12,"t":6,"v":1.05},{"s":12,"t":8,"v":1.15},{"s":12,"t":10,"v":1.3},{"s":12,"t":12,"v":1.52},{"s":12,"t":13.5,"v":1.55},{"s":12,"t":15,"v":1.4},{"s":12,"t":17,"v":1.25},{"s":12,"t":19,"v":1.2},{"s":12,"t":21,"v":1.3},{"s":12,"t":23,"v":1.35},{"s":12,"t":25,"v":1.25},{"s":12,"t":27.5,"v":1.2},{"s":12,"t":30,"v":1.25},
      {"s":13,"t":0,"v":1.0},{"s":13,"t":1,"v":1.0},{"s":13,"t":2.5,"v":1.05},{"s":13,"t":4,"v":1.1},{"s":13,"t":6,"v":1.15},{"s":13,"t":8,"v":1.2},{"s":13,"t":10,"v":1.25},{"s":13,"t":12.5,"v":1.2},{"s":13,"t":15,"v":1.3},{"s":13,"t":17,"v":1.45},{"s":13,"t":19,"v":1.58},{"s":13,"t":21,"v":1.5},{"s":13,"t":23,"v":1.3},{"s":13,"t":25,"v":1.2},{"s":13,"t":27.5,"v":1.3},{"s":13,"t":30,"v":1.4},
      {"s":14,"t":0,"v":1.0},{"s":14,"t":1,"v":1.05},{"s":14,"t":2.5,"v":1.1},{"s":14,"t":4,"v":1.05},{"s":14,"t":6,"v":1.0},{"s":14,"t":8,"v":1.05},{"s":14,"t":10,"v":1.1},{"s":14,"t":12.5,"v":1.15},{"s":14,"t":15,"v":1.2},{"s":14,"t":17.5,"v":1.15},{"s":14,"t":20,"v":1.1},{"s":14,"t":22.5,"v":1.2},{"s":14,"t":24.5,"v":1.4},{"s":14,"t":26.5,"v":1.6},{"s":14,"t":28,"v":1.55},{"s":14,"t":30,"v":1.4},
      {"s":15,"t":0,"v":1.0},{"s":15,"t":1,"v":1.1},{"s":15,"t":2.5,"v":1.2},{"s":15,"t":4,"v":1.25},{"s":15,"t":6,"v":1.3},{"s":15,"t":8,"v":1.4},{"s":15,"t":10,"v":1.45},{"s":15,"t":12,"v":1.35},{"s":15,"t":14,"v":1.3},{"s":15,"t":16,"v":1.35},{"s":15,"t":18,"v":1.4},{"s":15,"t":20,"v":1.3},{"s":15,"t":22,"v":1.2},{"s":15,"t":24,"v":1.3},{"s":15,"t":26,"v":1.45},{"s":15,"t":28,"v":1.5},{"s":15,"t":30,"v":1.45},
      {"s":16,"t":0,"v":1.0},{"s":16,"t":1,"v":0.95},{"s":16,"t":2.5,"v":0.85},{"s":16,"t":4,"v":0.75},{"s":16,"t":5.5,"v":0.7},{"s":16,"t":7,"v":0.75},{"s":16,"t":9,"v":0.85},{"s":16,"t":11,"v":0.9},{"s":16,"t":13,"v":0.85},{"s":16,"t":15,"v":0.8},{"s":16,"t":17.5,"v":0.85},{"s":16,"t":20,"v":0.9},{"s":16,"t":22.5,"v":0.95},{"s":16,"t":25,"v":0.85},{"s":16,"t":27.5,"v":0.75},{"s":16,"t":30,"v":0.8},
      {"s":17,"t":0,"v":1.0},{"s":17,"t":1,"v":1.02},{"s":17,"t":2.5,"v":1.0},{"s":17,"t":4,"v":0.95},{"s":17,"t":6,"v":0.92},{"s":17,"t":8,"v":0.95},{"s":17,"t":10,"v":1.0},{"s":17,"t":12.5,"v":1.05},{"s":17,"t":15,"v":1.02},{"s":17,"t":17.5,"v":1.0},{"s":17,"t":20,"v":0.98},{"s":17,"t":22.5,"v":1.0},{"s":17,"t":25,"v":1.05},{"s":17,"t":27.5,"v":1.08},{"s":17,"t":30,"v":1.05},
      {"s":18,"t":0,"v":1.0},{"s":18,"t":1,"v":1.05},{"s":18,"t":2.5,"v":1.12},{"s":18,"t":4,"v":1.15},{"s":18,"t":6,"v":1.1},{"s":18,"t":8,"v":1.05},{"s":18,"t":10,"v":1.1},{"s":18,"t":12.5,"v":1.2},{"s":18,"t":15,"v":1.15},{"s":18,"t":17.5,"v":1.1},{"s":18,"t":20,"v":1.15},{"s":18,"t":22.5,"v":1.05},{"s":18,"t":25,"v":0.95},{"s":18,"t":27.5,"v":1.0},{"s":18,"t":30,"v":1.1},
      {"s":19,"t":0,"v":1.0},{"s":19,"t":1,"v":0.97},{"s":19,"t":2.5,"v":0.9},{"s":19,"t":4,"v":0.8},{"s":19,"t":6,"v":0.75},{"s":19,"t":8,"v":0.85},{"s":19,"t":10,"v":0.95},{"s":19,"t":12.5,"v":1.0},{"s":19,"t":15,"v":0.95},{"s":19,"t":17.5,"v":0.9},{"s":19,"t":20,"v":0.85},{"s":19,"t":22.5,"v":0.9},{"s":19,"t":25,"v":1.0},{"s":19,"t":27.5,"v":0.95},{"s":19,"t":30,"v":0.9},
      {"s":20,"t":0,"v":1.0},{"s":20,"t":1,"v":0.9},{"s":20,"t":2,"v":0.7},{"s":20,"t":3,"v":0.55},{"s":20,"t":4.5,"v":0.5},{"s":20,"t":6,"v":0.55},{"s":20,"t":8,"v":0.6},{"s":20,"t":10,"v":0.7},{"s":20,"t":12,"v":0.65},{"s":20,"t":14,"v":0.6},{"s":20,"t":16,"v":0.65},{"s":20,"t":18,"v":0.7},{"s":20,"t":20,"v":0.75},{"s":20,"t":22.5,"v":0.8},{"s":20,"t":25,"v":0.7},{"s":20,"t":27.5,"v":0.55},{"s":20,"t":30,"v":0.5},
      {"s":21,"t":0,"v":1.0},{"s":21,"t":1,"v":1.0},{"s":21,"t":2.5,"v":0.95},{"s":21,"t":4,"v":0.85},{"s":21,"t":6,"v":0.65},{"s":21,"t":8,"v":0.45},{"s":21,"t":10,"v":0.35},{"s":21,"t":12,"v":0.45},{"s":21,"t":14,"v":0.6},{"s":21,"t":16,"v":0.7},{"s":21,"t":18,"v":0.8},{"s":21,"t":20,"v":0.75},{"s":21,"t":22.5,"v":0.6},{"s":21,"t":25,"v":0.45},{"s":21,"t":27,"v":0.38},{"s":21,"t":28.5,"v":0.38},{"s":21,"t":30,"v":0.4},
      {"s":22,"t":0,"v":1.0},{"s":22,"t":1,"v":1.08},{"s":22,"t":2.5,"v":1.2},{"s":22,"t":4,"v":1.25},{"s":22,"t":6,"v":1.2},{"s":22,"t":8,"v":1.1},{"s":22,"t":10,"v":1.0},{"s":22,"t":12,"v":0.9},{"s":22,"t":14,"v":0.85},{"s":22,"t":16,"v":0.9},{"s":22,"t":18,"v":1.0},{"s":22,"t":20,"v":1.1},{"s":22,"t":22,"v":1.2},{"s":22,"t":24,"v":1.15},{"s":22,"t":26,"v":1.0},{"s":22,"t":28,"v":0.85},{"s":22,"t":30,"v":0.8},
      {"s":23,"t":0,"v":1.0},{"s":23,"t":1,"v":0.95},{"s":23,"t":2.5,"v":0.8},{"s":23,"t":4,"v":0.65},{"s":23,"t":5.5,"v":0.6},{"s":23,"t":7,"v":0.65},{"s":23,"t":9,"v":0.75},{"s":23,"t":11,"v":0.8},{"s":23,"t":13,"v":0.75},{"s":23,"t":15,"v":0.7},{"s":23,"t":17.5,"v":0.75},{"s":23,"t":20,"v":0.8},{"s":23,"t":22.5,"v":0.85},{"s":23,"t":25,"v":0.9},{"s":23,"t":27.5,"v":0.95},{"s":23,"t":30,"v":1.0},
      {"s":24,"t":0,"v":1.0},{"s":24,"t":1,"v":1.0},{"s":24,"t":2.5,"v":1.05},{"s":24,"t":4,"v":1.1},{"s":24,"t":6,"v":1.05},{"s":24,"t":8,"v":0.95},{"s":24,"t":10,"v":0.85},{"s":24,"t":12,"v":0.8},{"s":24,"t":14,"v":0.85},{"s":24,"t":16,"v":0.95},{"s":24,"t":18,"v":1.05},{"s":24,"t":20,"v":1.15},{"s":24,"t":22.5,"v":1.25},{"s":24,"t":25,"v":1.3},{"s":24,"t":27.5,"v":1.2},{"s":24,"t":30,"v":1.1},
      {"s":25,"t":0,"v":1.0},{"s":25,"t":1,"v":0.9},{"s":25,"t":1.8,"v":0.6},{"s":25,"t":2.5,"v":0.35},{"s":25,"t":3.5,"v":0.2},{"s":25,"t":4.5,"v":0.3},{"s":25,"t":6,"v":0.5},{"s":25,"t":8,"v":0.55},{"s":25,"t":10,"v":0.5},{"s":25,"t":12,"v":0.6},{"s":25,"t":14,"v":0.75},{"s":25,"t":16,"v":0.8},{"s":25,"t":18,"v":0.7},{"s":25,"t":20,"v":0.6},{"s":25,"t":22.5,"v":0.55},{"s":25,"t":25,"v":0.4},{"s":25,"t":27.5,"v":0.3},{"s":25,"t":30,"v":0.22},
      {"s":26,"t":0,"v":1.0},{"s":26,"t":1,"v":1.05},{"s":26,"t":2.5,"v":1.15},{"s":26,"t":4,"v":1.3},{"s":26,"t":5.5,"v":1.4},{"s":26,"t":7,"v":1.35},{"s":26,"t":8.5,"v":1.2},{"s":26,"t":10,"v":1.1},{"s":26,"t":12,"v":1.15},{"s":26,"t":14,"v":1.25},{"s":26,"t":16,"v":1.2},{"s":26,"t":18,"v":1.1},{"s":26,"t":20,"v":1.0},{"s":26,"t":22.5,"v":0.95},{"s":26,"t":25,"v":1.05},{"s":26,"t":27.5,"v":1.2},{"s":26,"t":30,"v":1.3},
      {"s":27,"t":0,"v":1.0},{"s":27,"t":1,"v":1.0},{"s":27,"t":2.5,"v":0.95},{"s":27,"t":4,"v":0.95},{"s":27,"t":6,"v":1.0},{"s":27,"t":8,"v":1.1},{"s":27,"t":10,"v":1.15},{"s":27,"t":12.5,"v":1.1},{"s":27,"t":15,"v":1.05},{"s":27,"t":17.5,"v":1.1},{"s":27,"t":20,"v":1.2},{"s":27,"t":22.5,"v":1.3},{"s":27,"t":25,"v":1.35},{"s":27,"t":27.5,"v":1.25},{"s":27,"t":30,"v":1.2},
      {"s":28,"t":0,"v":1.0},{"s":28,"t":1,"v":0.98},{"s":28,"t":2.5,"v":0.92},{"s":28,"t":4,"v":0.88},{"s":28,"t":6,"v":0.9},{"s":28,"t":8,"v":0.95},{"s":28,"t":10,"v":1.05},{"s":28,"t":12.5,"v":1.1},{"s":28,"t":15,"v":1.0},{"s":28,"t":17.5,"v":0.95},{"s":28,"t":20,"v":1.0},{"s":28,"t":22.5,"v":1.05},{"s":28,"t":25,"v":1.1},{"s":28,"t":27.5,"v":1.0},{"s":28,"t":30,"v":0.95},
      {"s":29,"t":0,"v":1.0},{"s":29,"t":1,"v":0.93},{"s":29,"t":2.5,"v":0.75},{"s":29,"t":4,"v":0.6},{"s":29,"t":6,"v":0.5},{"s":29,"t":8,"v":0.55},{"s":29,"t":10,"v":0.65},{"s":29,"t":12.5,"v":0.7},{"s":29,"t":15,"v":0.65},{"s":29,"t":17.5,"v":0.7},{"s":29,"t":20,"v":0.72},{"s":29,"t":22.5,"v":0.68},{"s":29,"t":25,"v":0.55},{"s":29,"t":27.5,"v":0.4},{"s":29,"t":30,"v":0.35},
      {"s":30,"t":0,"v":1.0},{"s":30,"t":1,"v":1.03},{"s":30,"t":2.5,"v":1.08},{"s":30,"t":4,"v":1.05},{"s":30,"t":6,"v":1.1},{"s":30,"t":8,"v":1.2},{"s":30,"t":10,"v":1.3},{"s":30,"t":12,"v":1.25},{"s":30,"t":14,"v":1.15},{"s":30,"t":16,"v":1.1},{"s":30,"t":18,"v":1.15},{"s":30,"t":20,"v":1.25},{"s":30,"t":22.5,"v":1.4},{"s":30,"t":24,"v":1.55},{"s":30,"t":25.5,"v":1.45},{"s":30,"t":27.5,"v":1.3},{"s":30,"t":30,"v":1.35},
      {"s":31,"t":0,"v":1.0},{"s":31,"t":1,"v":1.05},{"s":31,"t":2.5,"v":1.1},{"s":31,"t":4,"v":1.05},{"s":31,"t":6,"v":1.0},{"s":31,"t":8,"v":0.95},{"s":31,"t":10,"v":0.98},{"s":31,"t":12.5,"v":1.05},{"s":31,"t":15,"v":1.1},{"s":31,"t":17.5,"v":1.05},{"s":31,"t":20,"v":1.0},{"s":31,"t":22.5,"v":0.95},{"s":31,"t":25,"v":0.98},{"s":31,"t":27.5,"v":1.05},{"s":31,"t":30,"v":1.1},
      {"s":32,"t":0,"v":1.0},{"s":32,"t":1,"v":0.95},{"s":32,"t":2.5,"v":0.88},{"s":32,"t":4,"v":0.82},{"s":32,"t":6,"v":0.85},{"s":32,"t":8,"v":0.92},{"s":32,"t":10,"v":0.98},{"s":32,"t":12.5,"v":0.92},{"s":32,"t":15,"v":0.88},{"s":32,"t":17.5,"v":0.92},{"s":32,"t":20,"v":0.98},{"s":32,"t":22.5,"v":0.95},{"s":32,"t":25,"v":0.9},{"s":32,"t":27.5,"v":0.88},{"s":32,"t":30,"v":0.92},
      {"s":33,"t":0,"v":1.0},{"s":33,"t":1,"v":1.08},{"s":33,"t":2.5,"v":1.15},{"s":33,"t":4,"v":1.2},{"s":33,"t":6,"v":1.15},{"s":33,"t":8,"v":1.25},{"s":33,"t":10,"v":1.35},{"s":33,"t":12,"v":1.3},{"s":33,"t":14,"v":1.2},{"s":33,"t":16,"v":1.15},{"s":33,"t":18,"v":1.2},{"s":33,"t":20,"v":1.15},{"s":33,"t":22.5,"v":1.1},{"s":33,"t":25,"v":1.15},{"s":33,"t":27.5,"v":1.25},{"s":33,"t":30,"v":1.3},
      {"s":34,"t":0,"v":1.0},{"s":34,"t":1,"v":0.92},{"s":34,"t":2.5,"v":0.75},{"s":34,"t":4,"v":0.7},{"s":34,"t":6,"v":0.72},{"s":34,"t":8,"v":0.8},{"s":34,"t":10,"v":0.88},{"s":34,"t":12.5,"v":0.85},{"s":34,"t":15,"v":0.8},{"s":34,"t":17.5,"v":0.82},{"s":34,"t":20,"v":0.88},{"s":34,"t":22.5,"v":0.92},{"s":34,"t":25,"v":0.85},{"s":34,"t":27.5,"v":0.8},{"s":34,"t":30,"v":0.85},
      {"s":35,"t":0,"v":1.0},{"s":35,"t":1,"v":1.0},{"s":35,"t":2.5,"v":1.05},{"s":35,"t":4,"v":1.0},{"s":35,"t":6,"v":0.95},{"s":35,"t":8,"v":1.0},{"s":35,"t":10,"v":1.08},{"s":35,"t":12.5,"v":1.15},{"s":35,"t":15,"v":1.1},{"s":35,"t":17.5,"v":1.0},{"s":35,"t":20,"v":0.92},{"s":35,"t":22.5,"v":0.9},{"s":35,"t":25,"v":0.95},{"s":35,"t":27.5,"v":1.05},{"s":35,"t":30,"v":1.0},
      {"s":36,"t":0,"v":1.0},{"s":36,"t":1,"v":0.97},{"s":36,"t":2.5,"v":0.9},{"s":36,"t":4,"v":0.85},{"s":36,"t":6,"v":0.8},{"s":36,"t":8,"v":0.7},{"s":36,"t":10,"v":0.62},{"s":36,"t":12.5,"v":0.65},{"s":36,"t":15,"v":0.75},{"s":36,"t":17.5,"v":0.85},{"s":36,"t":20,"v":0.9},{"s":36,"t":22.5,"v":0.85},{"s":36,"t":25,"v":0.75},{"s":36,"t":27.5,"v":0.7},{"s":36,"t":30,"v":0.65},
      {"s":37,"t":0,"v":1.0},{"s":37,"t":1,"v":1.02},{"s":37,"t":2.5,"v":1.06},{"s":37,"t":4,"v":1.12},{"s":37,"t":6,"v":1.18},{"s":37,"t":8,"v":1.1},{"s":37,"t":10,"v":1.02},{"s":37,"t":12.5,"v":0.98},{"s":37,"t":15,"v":1.02},{"s":37,"t":17.5,"v":1.08},{"s":37,"t":20,"v":1.05},{"s":37,"t":22.5,"v":1.0},{"s":37,"t":25,"v":1.05},{"s":37,"t":27.5,"v":1.15},{"s":37,"t":30,"v":1.2},
      {"s":38,"t":0,"v":1.0},{"s":38,"t":1,"v":0.88},{"s":38,"t":2,"v":0.62},{"s":38,"t":3,"v":0.45},{"s":38,"t":4.5,"v":0.4},{"s":38,"t":6,"v":0.48},{"s":38,"t":8,"v":0.62},{"s":38,"t":10,"v":0.72},{"s":38,"t":12.5,"v":0.78},{"s":38,"t":15,"v":0.82},{"s":38,"t":17.5,"v":0.78},{"s":38,"t":20,"v":0.7},{"s":38,"t":22.5,"v":0.65},{"s":38,"t":25,"v":0.7},{"s":38,"t":27.5,"v":0.78},{"s":38,"t":30,"v":0.85},
      {"s":39,"t":0,"v":1.0},{"s":39,"t":1,"v":1.0},{"s":39,"t":2.5,"v":0.98},{"s":39,"t":4,"v":1.02},{"s":39,"t":6,"v":1.08},{"s":39,"t":8,"v":1.12},{"s":39,"t":10,"v":1.05},{"s":39,"t":12.5,"v":0.95},{"s":39,"t":15,"v":0.9},{"s":39,"t":17.5,"v":0.95},{"s":39,"t":20,"v":1.05},{"s":39,"t":22.5,"v":1.1},{"s":39,"t":25,"v":1.05},{"s":39,"t":27.5,"v":0.98},{"s":39,"t":30,"v":1.0},
      {"s":40,"t":0,"v":1.0},{"s":40,"t":1,"v":0.94},{"s":40,"t":2.5,"v":0.82},{"s":40,"t":4,"v":0.72},{"s":40,"t":6,"v":0.65},{"s":40,"t":8,"v":0.68},{"s":40,"t":10,"v":0.78},{"s":40,"t":12.5,"v":0.9},{"s":40,"t":15,"v":0.95},{"s":40,"t":17.5,"v":0.88},{"s":40,"t":20,"v":0.8},{"s":40,"t":22.5,"v":0.78},{"s":40,"t":25,"v":0.82},{"s":40,"t":27.5,"v":0.9},{"s":40,"t":30,"v":0.95},
      {"s":41,"t":0,"v":1.0},{"s":41,"t":1,"v":1.06},{"s":41,"t":2.5,"v":1.1},{"s":41,"t":4,"v":1.08},{"s":41,"t":6,"v":1.02},{"s":41,"t":8,"v":1.0},{"s":41,"t":10,"v":1.05},{"s":41,"t":12.5,"v":1.12},{"s":41,"t":15,"v":1.22},{"s":41,"t":17.5,"v":1.3},{"s":41,"t":20,"v":1.25},{"s":41,"t":22.5,"v":1.15},{"s":41,"t":25,"v":1.1},{"s":41,"t":27.5,"v":1.12},{"s":41,"t":30,"v":1.18},
      {"s":42,"t":0,"v":1.0},{"s":42,"t":1,"v":0.99},{"s":42,"t":2.5,"v":0.94},{"s":42,"t":4,"v":0.9},{"s":42,"t":6,"v":0.92},{"s":42,"t":8,"v":0.98},{"s":42,"t":10,"v":0.95},{"s":42,"t":12.5,"v":0.88},{"s":42,"t":15,"v":0.85},{"s":42,"t":17.5,"v":0.9},{"s":42,"t":20,"v":0.95},{"s":42,"t":22.5,"v":1.0},{"s":42,"t":25,"v":1.02},{"s":42,"t":27.5,"v":0.98},{"s":42,"t":30,"v":0.95},
      {"s":43,"t":0,"v":1.0},{"s":43,"t":1,"v":1.03},{"s":43,"t":2.5,"v":1.02},{"s":43,"t":4,"v":0.95},{"s":43,"t":6,"v":0.88},{"s":43,"t":8,"v":0.9},{"s":43,"t":10,"v":1.0},{"s":43,"t":12.5,"v":1.08},{"s":43,"t":15,"v":1.12},{"s":43,"t":17.5,"v":1.15},{"s":43,"t":20,"v":1.1},{"s":43,"t":22.5,"v":1.02},{"s":43,"t":25,"v":0.98},{"s":43,"t":27.5,"v":1.02},{"s":43,"t":30,"v":1.05},
      {"s":44,"t":0,"v":1.0},{"s":44,"t":1,"v":0.96},{"s":44,"t":2.5,"v":0.86},{"s":44,"t":4,"v":0.78},{"s":44,"t":6,"v":0.72},{"s":44,"t":8,"v":0.75},{"s":44,"t":10,"v":0.82},{"s":44,"t":12.5,"v":0.8},{"s":44,"t":15,"v":0.72},{"s":44,"t":17.5,"v":0.65},{"s":44,"t":20,"v":0.62},{"s":44,"t":22.5,"v":0.68},{"s":44,"t":25,"v":0.75},{"s":44,"t":27.5,"v":0.72},{"s":44,"t":30,"v":0.7}
    ],
    "bR": [
      {"s":"m","t":0,"v":1.0},{"s":"m","t":0.7,"v":1.04},{"s":"m","t":1.3,"v":1.02},{"s":"m","t":2,"v":0.96},{"s":"m","t":3,"v":0.93},{"s":"m","t":4,"v":0.91},{"s":"m","t":5,"v":0.89},{"s":"m","t":6,"v":0.91},{"s":"m","t":7,"v":0.945},{"s":"m","t":9,"v":1.0},{"s":"m","t":11,"v":1.05},{"s":"m","t":12,"v":1.055},{"s":"m","t":13.5,"v":1.045},{"s":"m","t":15,"v":1.03},{"s":"m","t":17,"v":1.03},{"s":"m","t":18.5,"v":1.035},{"s":"m","t":20,"v":1.015},{"s":"m","t":22,"v":1.01},{"s":"m","t":25,"v":1.035},{"s":"m","t":28,"v":1.07},{"s":"m","t":30,"v":1.07},
      {"s":"hi","t":0,"v":1.0},{"s":"hi","t":0.6,"v":1.1},{"s":"hi","t":1.2,"v":1.12},{"s":"hi","t":2,"v":1.14},{"s":"hi","t":3.5,"v":1.14},{"s":"hi","t":5,"v":1.13},{"s":"hi","t":6.5,"v":1.16},{"s":"hi","t":8,"v":1.22},{"s":"hi","t":9,"v":1.28},{"s":"hi","t":10,"v":1.35},{"s":"hi","t":11.7,"v":1.42},{"s":"hi","t":13,"v":1.4},{"s":"hi","t":15,"v":1.33},{"s":"hi","t":17,"v":1.31},{"s":"hi","t":18.5,"v":1.29},{"s":"hi","t":20,"v":1.24},{"s":"hi","t":21.7,"v":1.2},{"s":"hi","t":23,"v":1.24},{"s":"hi","t":24.8,"v":1.35},{"s":"hi","t":26.5,"v":1.45},{"s":"hi","t":27.7,"v":1.48},{"s":"hi","t":29,"v":1.475},{"s":"hi","t":30,"v":1.458},
      {"s":"lo","t":0,"v":1.0},{"s":"lo","t":1,"v":0.97},{"s":"lo","t":1.5,"v":0.87},{"s":"lo","t":2.5,"v":0.74},{"s":"lo","t":3.5,"v":0.7},{"s":"lo","t":5,"v":0.66},{"s":"lo","t":6.5,"v":0.71},{"s":"lo","t":8,"v":0.76},{"s":"lo","t":9,"v":0.75},{"s":"lo","t":10.5,"v":0.71},{"s":"lo","t":12,"v":0.69},{"s":"lo","t":13.5,"v":0.71},{"s":"lo","t":15,"v":0.74},{"s":"lo","t":17,"v":0.75},{"s":"lo","t":18.5,"v":0.78},{"s":"lo","t":20,"v":0.8},{"s":"lo","t":22.5,"v":0.835},{"s":"lo","t":24,"v":0.81},{"s":"lo","t":25.5,"v":0.75},{"s":"lo","t":27,"v":0.69},{"s":"lo","t":28,"v":0.66},{"s":"lo","t":29,"v":0.67},{"s":"lo","t":30,"v":0.69}
    ]
  },
  "hconcat": [
    {
      "width": 1423,
      "height": 1059,
      "title": {"text": "(a)", "anchor": "start", "frame": "group", "dx": -318, "offset": 20},
      "resolve": {"scale": {"x": "independent"}, "axis": {"x": "independent"}},
      "layer": [
        {
          "layer": [
            {
              "data": {"name": "a"},
              "mark": {"type": "line", "stroke": "#9ca3a3", "strokeWidth": 2.5, "opacity": 0.7, "interpolate": "monotone", "clip": true},
              "encoding": {
                "x": {"field": "t", "type": "quantitative", "scale": {"domain": [0, 30], "nice": false},
                      "axis": {"values": [0, 5, 10, 15, 20, 25, 30], "title": "τ", "titleFontSize": 90, "titleFontStyle": "italic", "labelPadding": 4, "titlePadding": 2}},
                "y": {"field": "v", "type": "quantitative", "scale": {"domain": [-0.5, 1.5], "nice": false},
                      "axis": {"values": [-0.5, 0, 0.5, 1, 1.5], "labelExpr": "datum.value === 0 ? '0' : format(datum.value, '.1f')", "title": "(ℐᶻ_z + ℬᶻ_D)/ω*_z", "titleFontSize": 64, "titleFontStyle": "italic", "titleY": 447, "labelPadding": 20, "titlePadding": 24}},
                "detail": {"field": "s"}
              }
            },
            {
              "data": {"values": [{}]},
              "mark": {"type": "rule", "color": "#3f4343", "strokeWidth": 3, "strokeDash": [11, 6]},
              "encoding": {"y": {"datum": 1, "type": "quantitative"}}
            },
            {
              "data": {"name": "aR"},
              "transform": [{"filter": "datum.s !== 'm'"}],
              "mark": {"type": "line", "stroke": "#f42018", "strokeWidth": 7, "strokeDash": [24, 11], "interpolate": "monotone"},
              "encoding": {
                "x": {"field": "t", "type": "quantitative"},
                "y": {"field": "v", "type": "quantitative"},
                "detail": {"field": "s"}
              }
            },
            {
              "data": {"name": "aR"},
              "transform": [{"filter": "datum.s === 'm'"}],
              "mark": {"type": "line", "stroke": "#f42018", "strokeWidth": 6, "interpolate": "monotone"},
              "encoding": {
                "x": {"field": "t", "type": "quantitative"},
                "y": {"field": "v", "type": "quantitative"}
              }
            }
          ]
        },
        {
          "data": {"values": [{}]},
          "mark": {"type": "point", "opacity": 0},
          "encoding": {
            "x": {"datum": 0, "type": "quantitative", "scale": {"domain": [0, 347], "nice": false},
                  "axis": {"orient": "top", "values": [0, 100, 200, 300], "title": "τ⁺", "titleFontSize": 100, "titleFontStyle": "italic", "labelPadding": 10, "titlePadding": 20}}
          }
        }
      ]
    },
    {
      "width": 1420,
      "height": 1059,
      "title": {"text": "(b)", "anchor": "start", "frame": "group", "dx": -328, "offset": 20},
      "resolve": {"scale": {"x": "independent"}, "axis": {"x": "independent"}},
      "layer": [
        {
          "layer": [
            {
              "data": {"name": "b"},
              "mark": {"type": "line", "stroke": "#f59ab9", "strokeWidth": 2.4, "opacity": 0.6, "interpolate": "monotone", "clip": true},
              "encoding": {
                "x": {"field": "t", "type": "quantitative", "scale": {"domain": [0, 30], "nice": false},
                      "axis": {"values": [0, 5, 10, 15, 20, 25, 30], "title": "τ", "titleFontSize": 90, "titleFontStyle": "italic", "labelPadding": 4, "titlePadding": 2}},
                "y": {"field": "v", "type": "quantitative", "scale": {"domain": [-0.5, 1.5], "nice": false},
                      "axis": {"values": [-0.5, 0, 0.5, 1, 1.5], "labelExpr": "datum.value === 0 ? '0' : format(datum.value, '.1f')", "title": "(ℐᶻ_z + ℬᶻ_N)/ω*_z", "titleFontSize": 64, "titleFontStyle": "italic", "titleY": 445, "labelPadding": 20, "titlePadding": 24}},
                "detail": {"field": "s"}
              }
            },
            {
              "data": {"values": [{}]},
              "mark": {"type": "rule", "color": "#3f4343", "strokeWidth": 3, "strokeDash": [11, 6]},
              "encoding": {"y": {"datum": 1, "type": "quantitative"}}
            },
            {
              "data": {"name": "bR"},
              "transform": [{"filter": "datum.s !== 'm'"}],
              "mark": {"type": "line", "stroke": "#f42018", "strokeWidth": 7, "strokeDash": [24, 11], "interpolate": "monotone"},
              "encoding": {
                "x": {"field": "t", "type": "quantitative"},
                "y": {"field": "v", "type": "quantitative"},
                "detail": {"field": "s"}
              }
            },
            {
              "data": {"name": "bR"},
              "transform": [{"filter": "datum.s === 'm'"}],
              "mark": {"type": "line", "stroke": "#f42018", "strokeWidth": 6, "interpolate": "monotone"},
              "encoding": {
                "x": {"field": "t", "type": "quantitative"},
                "y": {"field": "v", "type": "quantitative"}
              }
            }
          ]
        },
        {
          "data": {"values": [{}]},
          "mark": {"type": "point", "opacity": 0},
          "encoding": {
            "x": {"datum": 0, "type": "quantitative", "scale": {"domain": [0, 347], "nice": false},
                  "axis": {"orient": "top", "values": [0, 100, 200, 300], "title": "τ⁺", "titleFontSize": 100, "titleFontStyle": "italic", "labelPadding": 10, "titlePadding": 20}}
          }
        }
      ]
    }
  ],
  "spacing": 597,
  "bounds": "flush"
}
